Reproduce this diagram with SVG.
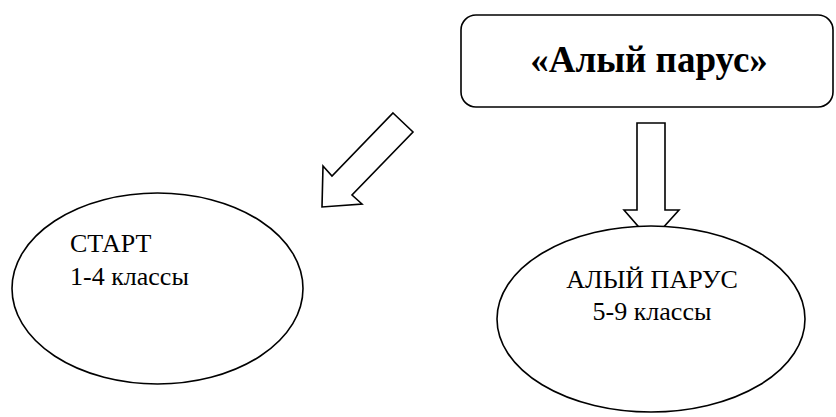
<svg xmlns="http://www.w3.org/2000/svg" width="836" height="417" viewBox="0 0 836 417">
<style>
.shape{fill:#fff;stroke:#000;stroke-width:1.6}
.t{font-family:"Liberation Serif","Times New Roman",serif;fill:#000}
.title{font-size:37px;font-weight:bold}
.lbl{font-size:26px}
</style>
<rect width="836" height="417" fill="#fff"/>
<g id="connectors">
<path class="shape" d="M393,113 L413,132 L352,195 L362,204 L322,207 L323,166 L332,176 Z"/>
<path class="shape" d="M637,123 L665,123 L665,210 L679,210 L651,241 L624,210 L637,210 Z"/>
</g>
<g id="node-title">
<rect class="shape" x="461" y="15" width="372" height="92" rx="15" ry="15"/>
<text class="t title" x="649" y="72" text-anchor="middle">«Алый парус»</text>
</g>
<g id="node-start">
<ellipse class="shape" cx="157.5" cy="288.5" rx="145.5" ry="95.5"/>
<text class="t lbl" x="70" y="252">СТАРТ</text>
<text class="t lbl" x="70" y="285">1-4 классы</text>
</g>
<g id="node-parus">
<ellipse class="shape" cx="651" cy="319" rx="154" ry="93"/>
<text class="t lbl" x="652" y="288" text-anchor="middle">АЛЫЙ ПАРУС</text>
<text class="t lbl" x="652" y="320" text-anchor="middle">5-9 классы</text>
</g>
</svg>
